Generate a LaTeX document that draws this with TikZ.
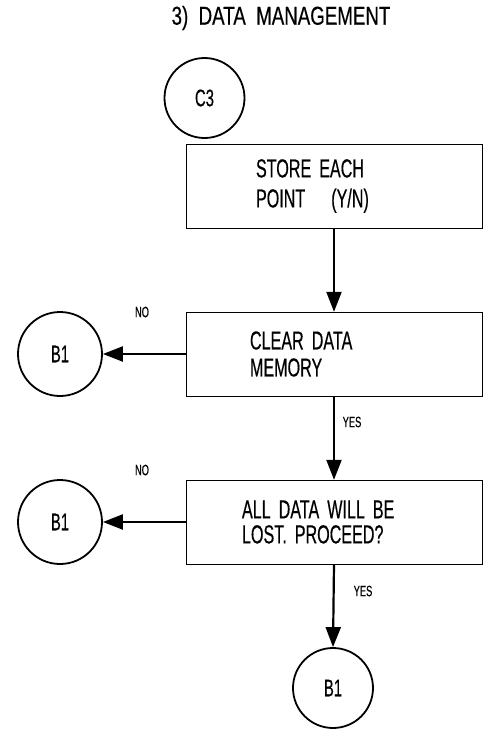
\documentclass[tikz,border=0pt]{standalone}
\usepackage{fontspec}
\newfontfamily\condfont[FakeStretch=0.62,FakeBold=0.4]{Liberation Sans}
\newfontfamily\titlefont[FakeStretch=0.72,FakeBold=0.4]{Liberation Sans}
\usetikzlibrary{arrows.meta}
\newcommand{\gapsp}{\hspace{8pt}}
\tikzset{
  x=1pt, y=-1pt,
  line width=2.4pt,
  boxnode/.style={draw, rectangle, minimum width=296pt, minimum height=84pt, inner sep=0pt, align=left, font=\condfont\fontsize{26}{27}\selectfont},
  conn/.style={draw, circle, minimum size=84pt, inner sep=0pt, line width=1.8pt, font=\condfont\fontsize{24}{26}\selectfont},
  small/.style={font=\condfont\fontsize{15}{16}\selectfont, inner sep=0pt},
  arr/.style={-{Triangle[length=20pt,width=15pt]}, line width=2.2pt}
}
\begin{document}
\begin{tikzpicture}
\useasboundingbox (0,0) rectangle (490,740);
\node[font=\titlefont\fontsize{26}{28}\selectfont, inner sep=0pt] (title) at (281,18) {3)\ \ DATA\ \ MANAGEMENT};
\node[conn, minimum size=80pt] (c3) at (204.5,98) {C3};
\node[boxnode, text width=156pt, font=\condfont\fontsize{26}{30}\selectfont] (b1) at (334,186) {STORE\gapsp EACH\\POINT\ \ \ (Y/N)};
\node[boxnode, text width=168pt] (b2) at (334,354) {CLEAR\gapsp DATA\\MEMORY};
\node[boxnode, text width=184pt, font=\condfont\fontsize{26}{25}\selectfont] (b3) at (334,522) {ALL\gapsp DATA\gapsp WILL\gapsp BE\\LOST.\gapsp PROCEED?};
\node[conn] (o1) at (60,354) {B1};
\node[conn] (o2) at (60,522) {B1};
\node[conn, minimum size=80pt] (o3) at (333,688) {B1};
\node[small] (no1) at (142,312) {NO};
\node[small] (no2) at (142,470) {NO};
\node[small] (yes1) at (352,422) {YES};
\node[small] (yes2) at (363,591) {YES};
\draw[arr] (b1.south) -- (b2.north);
\draw[arr] (b2.south) -- (b3.north);
\draw[arr] (b3.south) -- (o3.north);
\draw[arr] (b2.west) -- (o1.east);
\draw[arr] (b3.west) -- (o2.east);
\end{tikzpicture}
\end{document}
